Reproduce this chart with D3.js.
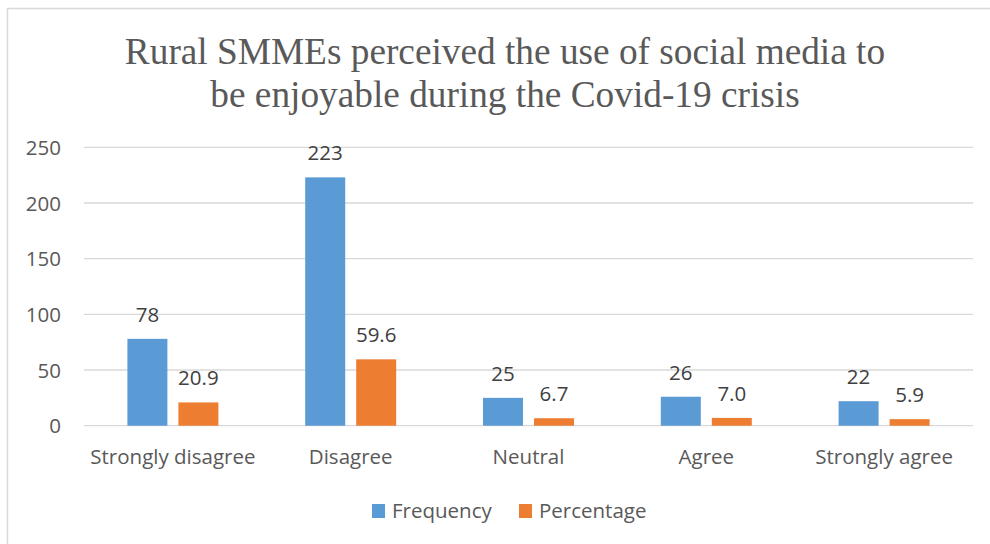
<!DOCTYPE html>
<html>
<head>
<meta charset="utf-8">
<script src="https://cdn.jsdelivr.net/npm/d3@7"></script>
<style>
  html, body { margin: 0; padding: 0; background: #fff; }
  svg { display: block; }
</style>
</head>
<body>
<svg id="chart" width="990" height="544"></svg>
<script>
// Survey responses: frequency and percentage per answer
const categories = ["Strongly disagree", "Disagree", "Neutral", "Agree", "Strongly agree"];
const seriesNames = ["Frequency", "Percentage"];
const frequency = [78, 223, 25, 26, 22];
const percentage = ["20.9", "59.6", "6.7", "7.0", "5.9"];
const yTicks = [0, 50, 100, 150, 200, 250];
const titleLines = ["Rural SMMEs perceived the use of social media to", "be enjoyable during the Covid-19 crisis"];
const colors = ["#5b9bd5", "#ed7d31"];

const rows = categories.map((c, i) => ({
  category: c,
  values: [
    { series: seriesNames[0], value: frequency[i], label: String(frequency[i]) },
    { series: seriesNames[1], value: +percentage[i], label: percentage[i] }
  ]
}));

const svg = d3.select("#chart");
const labelFont = "'Open Sans', 'Noto Sans', sans-serif";
const labelSize = 20.5;

// Chart frame
svg.append("rect")
  .attr("x", 7.5).attr("y", 8.5)
  .attr("width", 1000).attr("height", 600)
  .attr("fill", "#fff")
  .attr("stroke", "#d9d9d9").attr("stroke-width", 1.5);

// Title
svg.append("text")
  .attr("text-anchor", "middle")
  .attr("font-family", "'Liberation Serif', 'Times New Roman', serif")
  .attr("font-size", 37.3)
  .attr("fill", "#595959")
  .selectAll("tspan")
  .data(titleLines)
  .join("tspan")
  .attr("x", 505)
  .attr("y", (d, i) => 64 + i * 42.5)
  .text(d => d);

const plot = { left: 84, right: 973, top: 147.3, bottom: 425.7 };

const x0 = d3.scaleBand().domain(categories).range([plot.left, plot.right]).padding(0);
const groupW = 91;
const x1 = d3.scaleBand().domain(seriesNames)
  .range([x0.bandwidth() / 2 - groupW / 2, x0.bandwidth() / 2 + groupW / 2])
  .paddingInner(0.2157).paddingOuter(0);
const y = d3.scaleLinear().domain([0, 250]).range([plot.bottom, plot.top]);

// Gridlines
svg.append("g")
  .selectAll("line")
  .data(yTicks)
  .join("line")
  .attr("x1", plot.left).attr("x2", plot.right)
  .attr("y1", d => y(d)).attr("y2", d => y(d))
  .attr("stroke", "#d9d9d9").attr("stroke-width", 1.3);

// Y axis labels
const yAxis = d3.axisLeft(y).tickValues(yTicks).tickSize(0).tickPadding(0);
const yG = svg.append("g").attr("transform", `translate(61,0)`).call(yAxis);
yG.select(".domain").remove();
yG.selectAll("text")
  .attr("font-family", labelFont).attr("font-size", labelSize)
  .attr("fill", "#595959").attr("dy", "0.35em");

// X axis labels
const xAxis = d3.axisBottom(x0).tickSize(0).tickPadding(0);
const xG = svg.append("g").attr("transform", `translate(0,${plot.bottom})`).call(xAxis);
xG.select(".domain").remove();
xG.selectAll("text")
  .attr("font-family", labelFont).attr("font-size", labelSize)
  .attr("fill", "#595959").attr("dy", null).attr("y", 38.5);

// Bars
const groups = svg.append("g")
  .selectAll("g")
  .data(rows)
  .join("g")
  .attr("transform", d => `translate(${x0(d.category)},0)`);

groups.selectAll("rect")
  .data(d => d.values)
  .join("rect")
  .attr("x", d => x1(d.series))
  .attr("width", x1.bandwidth())
  .attr("y", d => y(d.value))
  .attr("height", d => y(0) - y(d.value))
  .attr("fill", (d, i) => colors[i]);

// Value labels
groups.selectAll("text.value")
  .data(d => d.values)
  .join("text")
  .attr("class", "value")
  .attr("x", d => x1(d.series) + x1.bandwidth() / 2)
  .attr("y", d => y(d.value) - 17)
  .attr("text-anchor", "middle")
  .attr("font-family", labelFont).attr("font-size", labelSize)
  .attr("fill", "#404040")
  .text(d => d.label);

// Legend
const legendItems = [
  { name: seriesNames[0], color: colors[0], x: 372 },
  { name: seriesNames[1], color: colors[1], x: 519 }
];
const lg = svg.append("g")
  .selectAll("g")
  .data(legendItems)
  .join("g")
  .attr("transform", d => `translate(${d.x},504)`);
lg.append("rect").attr("width", 13).attr("height", 14).attr("fill", d => d.color);
lg.append("text")
  .attr("x", 20).attr("y", 7).attr("dy", "0.35em")
  .attr("font-family", labelFont).attr("font-size", labelSize)
  .attr("fill", "#595959")
  .text(d => d.name);
</script>
</body>
</html>
